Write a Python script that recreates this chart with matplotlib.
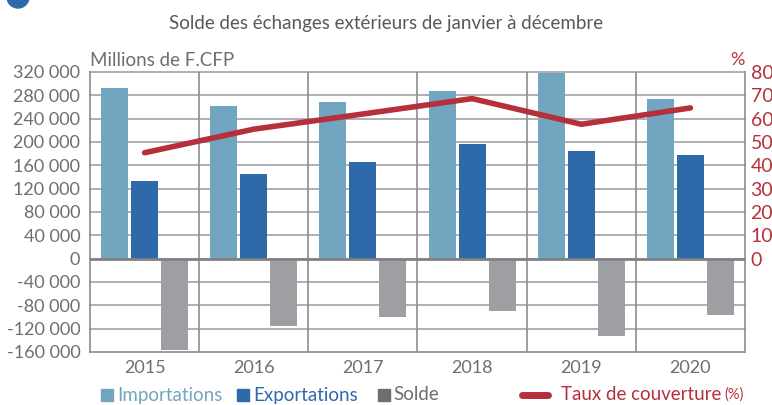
import matplotlib.pyplot as plt
import numpy as np
from matplotlib.patches import Rectangle, Ellipse
from matplotlib.lines import Line2D

plt.rcParams['font.family'] = ['Lato', 'DejaVu Sans']

years = ["2015", "2016", "2017", "2018", "2019", "2020"]
importations = [293000, 261000, 268000, 287000, 319000, 273000]
exportations = [133000, 145000, 166000, 197000, 184000, 177000]
solde = [-156000, -115000, -100000, -89000, -133000, -96000]
taux = [45.4, 55.5, 62.0, 68.6, 57.6, 64.6]
left_ticks = list(range(-160000, 320001, 40000))
right_ticks = list(range(0, 81, 10))

c_imp = "#71a5c0"
c_exp = "#2e69aa"
c_sol = "#9d9fa2"
c_red = "#b5303a"
c_txt = "#6d6e71"
c_grid = "#a7a9ac"

W, H = 772, 405
fig = plt.figure(figsize=(W / 100, H / 100), dpi=100)
ax = fig.add_axes([90 / W, 1 - 352 / H, (745 - 90) / W, (352 - 72) / H])

x = np.arange(len(years))
bw = 0.248
ax.bar(x - 0.275, importations, bw, color=c_imp, zorder=3)
ax.bar(x, exportations, bw, color=c_exp, zorder=3)
ax.bar(x + 0.275, solde, bw, color=c_sol, zorder=3)

ax.set_xlim(-0.5, len(years) - 0.5)
ax.set_ylim(-160000, 320000)
ax.set_yticks(left_ticks)
ax.set_yticklabels([f"{v:,}".replace(",", " ") for v in left_ticks])
ax.set_xticks(x)
ax.set_xticklabels(years)
ax.tick_params(axis="y", length=0, pad=7, labelsize=13, labelcolor=c_txt)
ax.tick_params(axis="x", length=0, pad=6, labelsize=13, labelcolor=c_txt)

# grid and separators
for v in left_ticks[1:]:
    ax.axhline(v, color=c_grid, lw=1.3, zorder=1, clip_on=False)
ax.axhline(0, color="#808285", lw=2, zorder=4)
for b in np.arange(0.5, len(years) - 0.5, 1):
    ax.axvline(b, color="#8a8c8e", lw=1.2, zorder=1)
for s in ["left", "bottom", "right"]:
    ax.spines[s].set_color("#8a8c8e")
    ax.spines[s].set_linewidth(1.2)
ax.spines["top"].set_visible(False)

# taux de couverture on the right axis
ax2 = ax.twinx()
ax2.plot(x, taux, color=c_red, lw=4, solid_capstyle="round", zorder=5)
ax2.set_ylim(-40, 80)
ax2.set_yticks(right_ticks)
ax2.tick_params(axis="y", length=0, pad=4, labelsize=14, labelcolor=c_red)
for s in ax2.spines.values():
    s.set_visible(False)

# titles
fig.text(386 / W, 1 - 24 / H, "Solde des échanges extérieurs de janvier à décembre",
         ha="center", va="center", fontsize=13.5, color="#58595b")
fig.text(90 / W, 1 - 60 / H, "Millions de F.CFP", ha="left", va="center",
         fontsize=13.5, color=c_txt)
fig.text(737 / W, 1 - 60 / H, "%", ha="center", va="center",
         fontsize=13, color=c_red)

# cut blue bullet at top-left
fig.patches.append(Ellipse((18 / W, 1 + 3 / H), 22 / W, 22 / H,
                           transform=fig.transFigure, color=c_exp))

# legend, built by hand
ly = 1 - 395 / H
sq = 12
for x0, col in [(101, c_imp), (237, c_exp), (378, "#6d6e71")]:
    fig.patches.append(Rectangle((x0 / W, ly - sq / 2 / H), sq / W, sq / H,
                                 transform=fig.transFigure, color=col))
fig.text(117 / W, ly, "Importations", ha="left", va="center", fontsize=13.5, color=c_imp)
fig.text(253 / W, ly, "Exportations", ha="left", va="center", fontsize=13.5, color=c_exp)
fig.text(393 / W, ly, "Solde", ha="left", va="center", fontsize=13.5, color=c_txt)
fig.lines.append(Line2D([522 / W, 548 / W], [ly, ly], transform=fig.transFigure,
                        color=c_red, lw=5, solid_capstyle="round"))
t = fig.text(561 / W, ly, "Taux de couverture", ha="left", va="center",
             fontsize=13.5, color=c_red)
ax.annotate("(%)", xy=(1, 0.5), xycoords=t, xytext=(2, 0),
            textcoords="offset points", ha="left", va="center",
            fontsize=10.5, color=c_red)

fig.savefig("out.png", dpi=100)
